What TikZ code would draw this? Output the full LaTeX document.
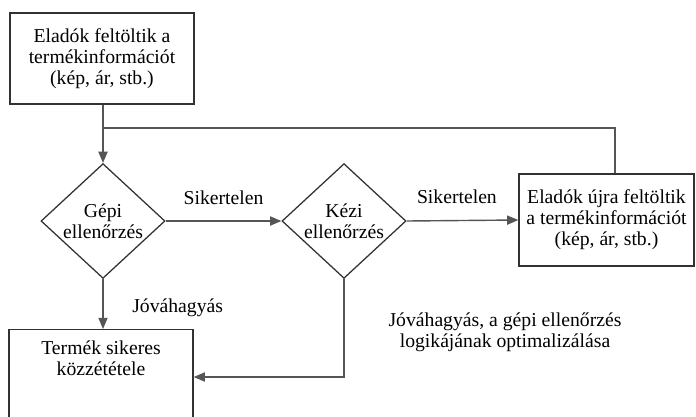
\documentclass[tikz,border=0pt]{standalone}
\usepackage{fontspec}
\setmainfont{Liberation Serif}
\usetikzlibrary{arrows.meta, positioning, shapes.geometric, calc}
\definecolor{linkgray}{RGB}{85,85,85}
\definecolor{edgegray}{RGB}{50,50,50}

\begin{document}
\begin{tikzpicture}[
  x=0.025cm, y=-0.025cm,
  every node/.style={font=\fontsize{14}{15}\selectfont, align=center, text=black},
  infobox/.style={draw=edgegray, line width=0.9pt, rectangle},
  decision/.style={draw=edgegray, line width=0.9pt, diamond, inner sep=0pt, minimum width=3.1cm, minimum height=2.75cm},
  arr/.style={-{Triangle[length=8pt, width=6.5pt]}, line width=1pt, color=linkgray},
  link/.style={line width=1pt, color=linkgray}
]
\useasboundingbox (0,0) rectangle (696,416);
\clip (0,0) rectangle (696,416);

% Upload
\node[infobox, minimum width=4.6cm, minimum height=2.275cm] (upload) at (102,58.5) {Eladók feltöltik a\\termékinformációt\\(kép, ár, stb.)};

% Checks
\node[decision] (gepi) at (103,221) {Gépi\\ellenőrzés};
\node[decision] (kezi) at (344,221) {Kézi\\ellenőrzés};

% Re-upload
\node[infobox, minimum width=4.375cm, minimum height=2.3cm] (reup) at (606.5,220) {Eladók újra feltöltik\\a termékinformációt\\(kép, ár, stb.)};

% Published
\node[infobox, anchor=north, minimum width=4.6cm, inner ysep=8pt, text depth=4cm] (pub) at (101,329) {Termék sikeres\\közzététele};

% Label
\node (optlbl) at (505,332) {Jóváhagyás, a gépi ellenőrzés\\logikájának optimalizálása};

% Helper points
\coordinate (loopR) at (615,128);
\coordinate (loopL) at (103,128);
\coordinate (ret) at (344,377);

% Arrows
\draw[arr] (upload.south -| gepi.north) -- (gepi.north);
\draw[link] (reup.north -| loopR) -- (loopR) -- (loopL);
\draw[arr] (gepi.east) -- node[above=8pt] {Sikertelen} (kezi.west);
\draw[arr] (kezi.east) -- node[pos=0.45, above=8pt] {Sikertelen} (reup.west);
\draw[arr] (gepi.south) -- node[pos=0.58, right=17pt] {Jóváhagyás} (gepi.south |- pub.north);
\draw[arr] (kezi.south) -- (ret) -- (pub.east |- ret);

\end{tikzpicture}
\end{document}
